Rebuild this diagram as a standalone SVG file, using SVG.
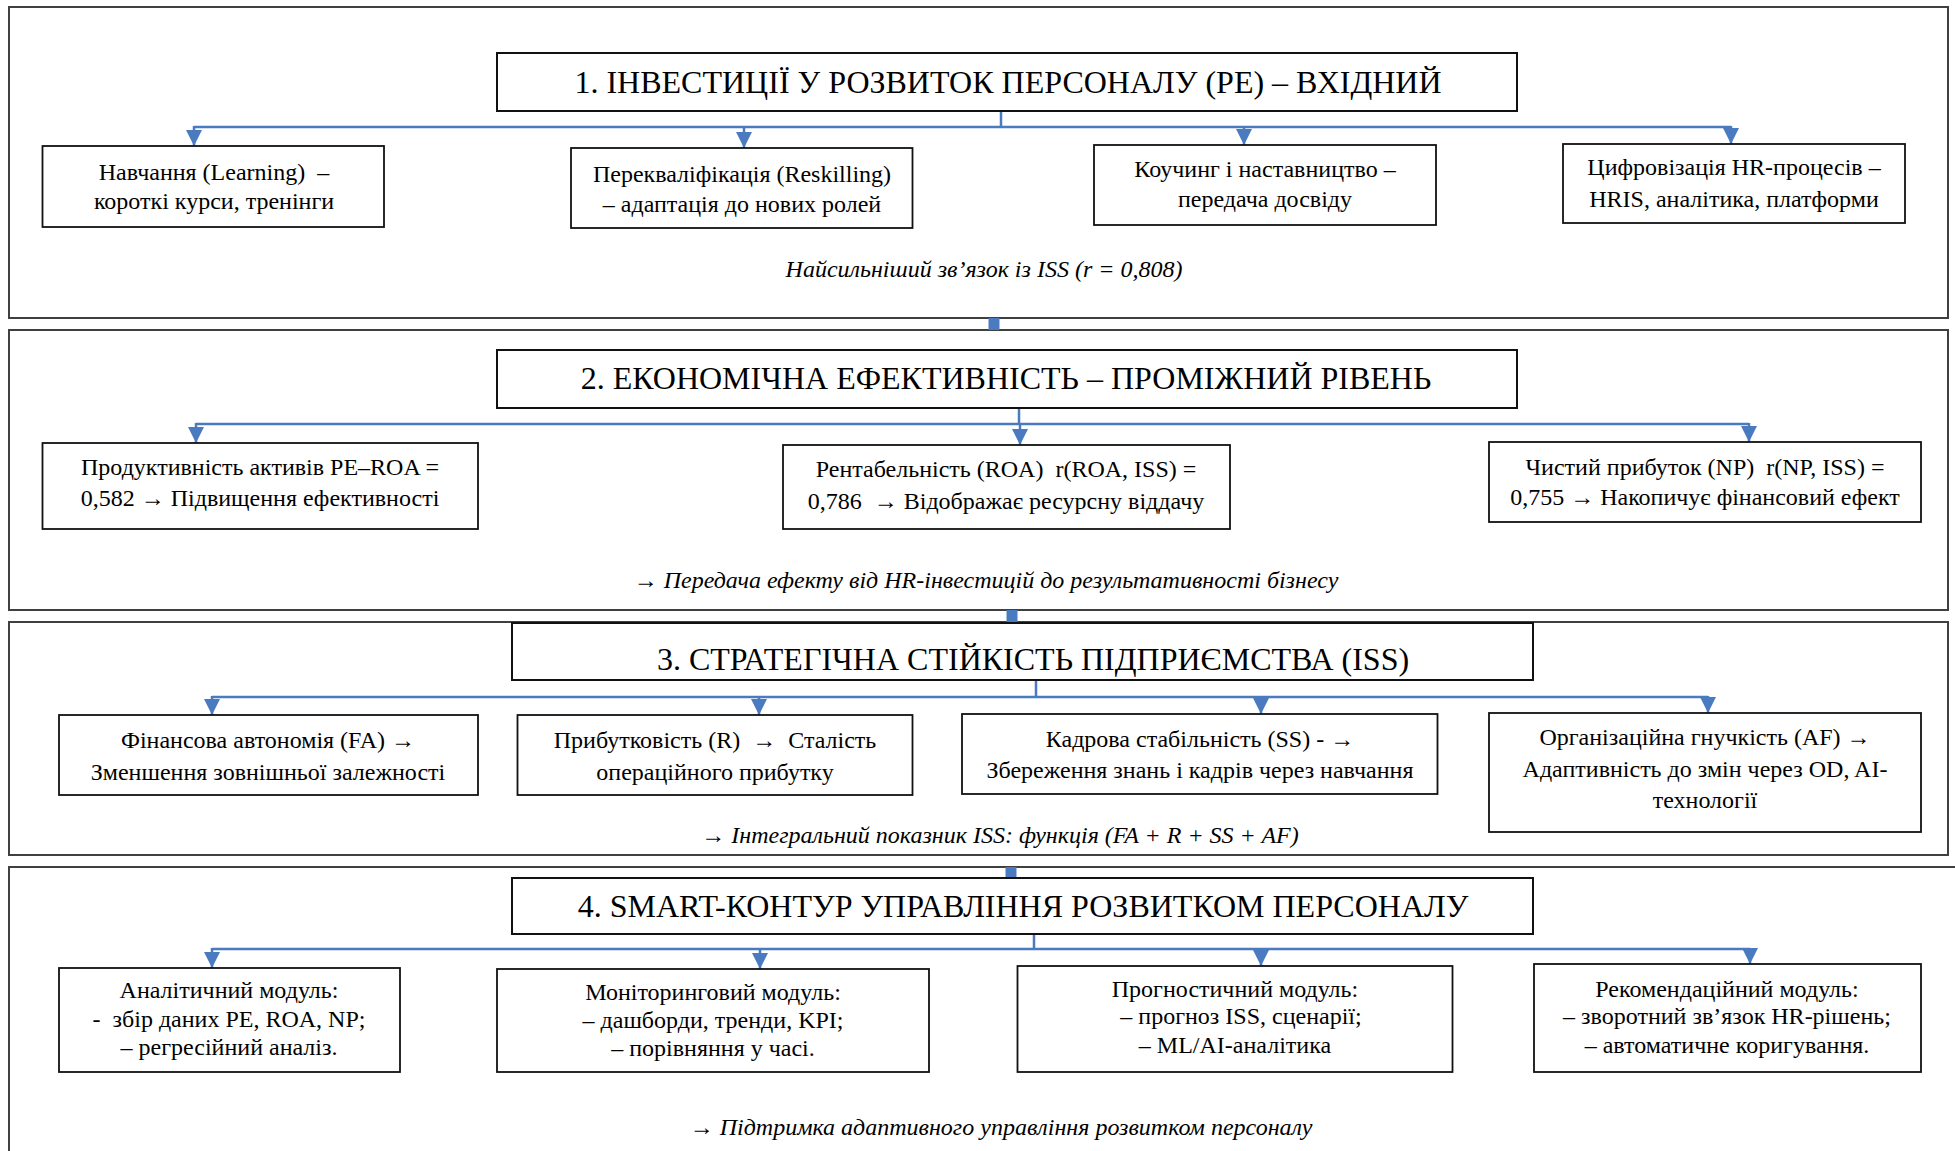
<svg xmlns="http://www.w3.org/2000/svg" width="1955" height="1151" viewBox="0 0 1955 1151">
<style>
text{font-family:"Liberation Serif","Times New Roman",serif;fill:#000;white-space:pre}
.frame{fill:none;stroke:#404040;stroke-width:2}
.title{fill:#fff;stroke:#111;stroke-width:2}
.box{fill:#fff;stroke:#111;stroke-width:1.8}
.tt{font-size:32px;text-anchor:middle}
.bt{font-size:24px;text-anchor:middle}
.cap{font-size:24px;font-style:italic;text-anchor:middle}
.br{fill:none;stroke:#4a7bc0;stroke-width:2.5}
.ar{fill:none;stroke:#4a7bc0;stroke-width:2.5;marker-end:url(#ah)}
.lk{stroke:#4a7bc0;stroke-width:11}
</style>
<defs>
<marker id="ah" markerUnits="userSpaceOnUse" viewBox="0 0 16 16" refX="16" refY="8" markerWidth="16" markerHeight="16" orient="auto">
<path d="M0,0 L16,8 L0,16 z" fill="#4a7bc0"/>
</marker>
</defs>

<g id="frames">
<rect id="frame1" class="frame" x="9" y="7" width="1939" height="311"/>
<rect id="frame2" class="frame" x="9" y="330" width="1939" height="280"/>
<rect id="frame3" class="frame" x="9" y="622" width="1939" height="233"/>
<rect id="frame4" class="frame" x="9" y="867" width="1960" height="300"/>
</g>

<g id="connectors">
<line class="lk" x1="994" y1="318" x2="994" y2="330"/>
<line class="lk" x1="1012" y1="610" x2="1012" y2="623"/>
<line class="lk" x1="1011" y1="867" x2="1011" y2="878"/>

<path class="br" d="M1001,111 V127 M194,127 H1731"/>
<line class="ar" x1="194" y1="126" x2="194" y2="146"/>
<line class="ar" x1="744" y1="126" x2="744" y2="148"/>
<line class="ar" x1="1244" y1="126" x2="1244" y2="145"/>
<line class="ar" x1="1731" y1="126" x2="1731" y2="144"/>

<path class="br" d="M1019,408 V424 M196,424 H1749"/>
<line class="ar" x1="196" y1="423" x2="196" y2="443"/>
<line class="ar" x1="1020" y1="423" x2="1020" y2="445"/>
<line class="ar" x1="1749" y1="423" x2="1749" y2="442"/>

<path class="br" d="M1036,680 V697 M212,697 H1708"/>
<line class="ar" x1="212" y1="696" x2="212" y2="715"/>
<line class="ar" x1="759" y1="696" x2="759" y2="715"/>
<line class="ar" x1="1261" y1="696" x2="1261" y2="714"/>
<line class="ar" x1="1708" y1="696" x2="1708" y2="713"/>

<path class="br" d="M1034,934 V949 M212,949 H1750"/>
<line class="ar" x1="212" y1="948" x2="212" y2="968"/>
<line class="ar" x1="760" y1="948" x2="760" y2="969"/>
<line class="ar" x1="1261" y1="948" x2="1261" y2="966"/>
<line class="ar" x1="1750" y1="948" x2="1750" y2="964"/>
</g>

<g id="level1">
<g id="t1"><rect class="title" x="497" y="53" width="1020" height="58"/><text class="tt" x="1008" y="93">1. ІНВЕСТИЦІЇ У РОЗВИТОК ПЕРСОНАЛУ (PE) – ВХІДНИЙ</text></g>
<g id="n1a"><rect class="box" x="42.5" y="146" width="341.5" height="81"/><text class="bt" x="214" y="180">Навчання (Learning)  –</text><text class="bt" x="214" y="209">короткі курси, тренінги</text></g>
<g id="n1b"><rect class="box" x="571" y="148" width="341.5" height="80"/><text class="bt" x="742" y="182">Перекваліфікація (Reskilling)</text><text class="bt" x="742" y="212">– адаптація до нових ролей</text></g>
<g id="n1c"><rect class="box" x="1094" y="145" width="342" height="80"/><text class="bt" x="1265" y="177">Коучинг і наставництво –</text><text class="bt" x="1265" y="207">передача досвіду</text></g>
<g id="n1d"><rect class="box" x="1563" y="144" width="342" height="79"/><text class="bt" x="1734" y="175">Цифровізація HR-процесів –</text><text class="bt" x="1734" y="207">HRIS, аналітика, платформи</text></g>
<text id="c1" class="cap" x="984" y="277">Найсильніший зв’язок із ISS (r = 0,808)</text>
</g>

<g id="level2">
<g id="t2"><rect class="title" x="497" y="350" width="1020" height="58"/><text class="tt" x="1006" y="389">2. ЕКОНОМІЧНА ЕФЕКТИВНІСТЬ – ПРОМІЖНИЙ РІВЕНЬ</text></g>
<g id="n2a"><rect class="box" x="42.5" y="443" width="435.5" height="86"/><text class="bt" x="260" y="475">Продуктивність активів PE–ROA =</text><text class="bt" x="260" y="506">0,582 → Підвищення ефективності</text></g>
<g id="n2b"><rect class="box" x="783" y="445" width="447" height="84"/><text class="bt" x="1006" y="477">Рентабельність (ROA)  r(ROA, ISS) =</text><text class="bt" x="1006" y="509">0,786  → Відображає ресурсну віддачу</text></g>
<g id="n2c"><rect class="box" x="1489" y="442" width="432" height="80"/><text class="bt" x="1705" y="475">Чистий прибуток (NP)  r(NP, ISS) =</text><text class="bt" x="1705" y="505">0,755 → Накопичує фінансовий ефект</text></g>
<text id="c2" class="cap" x="986" y="588">→ Передача ефекту від HR-інвестицій до результативності бізнесу</text>
</g>

<g id="level3">
<g id="t3"><rect class="title" x="512" y="623" width="1021" height="57"/><text class="tt" x="1033" y="670">3. СТРАТЕГІЧНА СТІЙКІСТЬ ПІДПРИЄМСТВА (ISS)</text></g>
<g id="n3a"><rect class="box" x="59" y="715" width="419" height="80"/><text class="bt" x="268" y="748">Фінансова автономія (FA) →</text><text class="bt" x="268" y="780">Зменшення зовнішньої залежності</text></g>
<g id="n3b"><rect class="box" x="517.5" y="715" width="395" height="80"/><text class="bt" x="715" y="748">Прибутковість (R)  →  Сталість</text><text class="bt" x="715" y="780">операційного прибутку</text></g>
<g id="n3c"><rect class="box" x="962" y="714" width="475.5" height="80"/><text class="bt" x="1200" y="747">Кадрова стабільність (SS) - →</text><text class="bt" x="1200" y="778">Збереження знань і кадрів через навчання</text></g>
<g id="n3d"><rect class="box" x="1489" y="713" width="432" height="119"/><text class="bt" x="1705" y="745">Організаційна гнучкість (AF) →</text><text class="bt" x="1705" y="777">Адаптивність до змін через OD, AI-</text><text class="bt" x="1705" y="808">технології</text></g>
<text id="c3" class="cap" x="1000" y="843">→ Інтегральний показник ISS: функція (FA + R + SS + AF)</text>
</g>

<g id="level4">
<g id="t4"><rect class="title" x="512" y="878" width="1021" height="56"/><text class="tt" x="1023" y="917">4. SMART-КОНТУР УПРАВЛІННЯ РОЗВИТКОМ ПЕРСОНАЛУ</text></g>
<g id="n4a"><rect class="box" x="59" y="968" width="341" height="104"/><text class="bt" x="229" y="998">Аналітичний модуль:</text><text class="bt" x="229" y="1027">-  збір даних PE, ROA, NP;</text><text class="bt" x="229" y="1055">– регресійний аналіз.</text></g>
<g id="n4b"><rect class="box" x="497" y="969" width="432" height="103"/><text class="bt" x="713" y="1000">Моніторинговий модуль:</text><text class="bt" x="713" y="1028">– дашборди, тренди, KPI;</text><text class="bt" x="713" y="1056">– порівняння у часі.</text></g>
<g id="n4c"><rect class="box" x="1017.5" y="966" width="435" height="106"/><text class="bt" x="1235" y="997">Прогностичний модуль:</text><text class="bt" x="1241" y="1024">– прогноз ISS, сценарії;</text><text class="bt" x="1235" y="1053">– ML/AI-аналітика</text></g>
<g id="n4d"><rect class="box" x="1534" y="964" width="387" height="108"/><text class="bt" x="1727" y="997">Рекомендаційний модуль:</text><text class="bt" x="1727" y="1024">– зворотний зв’язок HR-рішень;</text><text class="bt" x="1727" y="1053">– автоматичне коригування.</text></g>
<text id="c4" class="cap" x="1001" y="1135">→ Підтримка адаптивного управління розвитком персоналу</text>
</g>
</svg>
